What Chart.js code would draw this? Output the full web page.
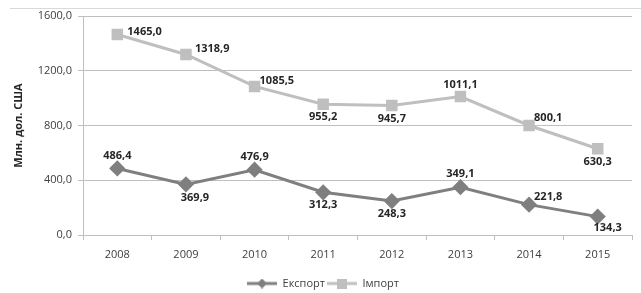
<!DOCTYPE html>
<html>
<head>
<meta charset="utf-8">
<script src="https://cdn.jsdelivr.net/npm/chart.js@4"></script>
<style>
  html, body { margin: 0; padding: 0; background: #fff; }
  #wrap { width: 641px; height: 293px; }
</style>
</head>
<body>
<div id="wrap"><canvas id="chart" width="641" height="293"></canvas></div>
<script>
// Data
const years = ['2008', '2009', '2010', '2011', '2012', '2013', '2014', '2015'];
const exportValues = [486.4, 369.9, 476.9, 312.3, 248.3, 349.1, 221.8, 134.3];
const importValues = [1465.0, 1318.9, 1085.5, 955.2, 945.7, 1011.1, 800.1, 630.3];
const yTicks = [0, 400, 800, 1200, 1600];

// where each value label sits relative to its point: [dx, dy, align]
const exportLabelPos = [[0, -13, 'center'], [9, 13, 'center'], [0, -13, 'center'], [0, 13, 'center'],
                        [0, 13, 'center'], [0, -13, 'center'], [5, -8, 'left'], [10, 11, 'center']];
const importLabelPos = [[10, -3, 'left'], [9, -6, 'left'], [5, -6, 'left'], [0, 13, 'center'],
                        [0, 13, 'center'], [0, -12, 'center'], [5, -8, 'left'], [0, 13, 'center']];

const EXPORT_COLOR = '#7f7f7f';
const IMPORT_COLOR = '#bfbfbf';
const FONT = "'Open Sans', 'DejaVu Sans', sans-serif";

function fmt(v) {
    return v.toFixed(1).replace('.', ',');
}

// little line+marker picture for the legend
function legendIcon(color, style) {
    const c = document.createElement('canvas');
    c.width = 30; c.height = 10;
    const g = c.getContext('2d');
    g.strokeStyle = color;
    g.lineWidth = 3;
    g.beginPath(); g.moveTo(0, 5); g.lineTo(30, 5); g.stroke();
    g.fillStyle = color;
    if (style === 'rect') {
        g.fillRect(10, 0, 10, 10);
    } else {
        g.beginPath();
        g.moveTo(15, 0); g.lineTo(20, 5); g.lineTo(15, 10); g.lineTo(10, 5);
        g.closePath(); g.fill();
    }
    return c;
}

// value labels next to points
const valueLabels = {
    id: 'valueLabels',
    afterDatasetsDraw(chart) {
        const ctx = chart.ctx;
        ctx.save();
        ctx.font = 'bold 11px ' + FONT;
        ctx.fillStyle = '#262626';
        ctx.textBaseline = 'middle';
        chart.data.datasets.forEach((ds, i) => {
            const pos = i === 0 ? exportLabelPos : importLabelPos;
            chart.getDatasetMeta(i).data.forEach((pt, j) => {
                const p = pos[j];
                ctx.textAlign = p[2];
                ctx.fillText(fmt(ds.data[j]), pt.x + p[0], pt.y + p[1]);
            });
        });
        ctx.restore();
    }
};

// thin frame line at the top
const frame = {
    id: 'frame',
    beforeDraw(chart) {
        const ctx = chart.ctx;
        ctx.save();
        ctx.strokeStyle = '#d9d9d9';
        ctx.lineWidth = 1;
        ctx.beginPath();
        ctx.moveTo(10, 8.5);
        ctx.lineTo(641, 8.5);
        ctx.stroke();
        ctx.restore();
    }
};

new Chart(document.getElementById('chart'), {
    type: 'line',
    data: {
        labels: years,
        datasets: [
            {
                label: 'Експорт',
                data: exportValues,
                borderColor: EXPORT_COLOR,
                backgroundColor: EXPORT_COLOR,
                borderWidth: 3,
                pointStyle: 'rectRot',
                pointRadius: 6,
                pointHoverRadius: 6,
                tension: 0
            },
            {
                label: 'Імпорт',
                data: importValues,
                borderColor: IMPORT_COLOR,
                backgroundColor: IMPORT_COLOR,
                borderWidth: 3,
                pointStyle: 'rect',
                pointRadius: 6,
                pointHoverRadius: 6,
                tension: 0
            }
        ]
    },
    options: {
        responsive: false,
        animation: false,
        layout: { padding: { top: 16, right: 7, left: 12, bottom: -6 } },
        scales: {
            x: {
                offset: true,
                grid: {
                    offset: true,
                    drawOnChartArea: false,
                    color: '#bfbfbf',
                    tickLength: 5
                },
                border: { color: '#bfbfbf' },
                ticks: { color: '#404040', font: { family: FONT, size: 11 }, padding: 8 },
                afterFit(scale) { scale.height = 41; }
            },
            y: {
                min: 0,
                max: 1600,
                afterBuildTicks(scale) {
                    scale.ticks = yTicks.map(v => ({ value: v }));
                },
                afterFit(scale) { scale.width = 71; },
                grid: { color: '#bfbfbf', tickLength: 5 },
                border: { color: '#bfbfbf' },
                ticks: {
                    color: '#404040',
                    font: { family: FONT, size: 11 },
                    padding: 6,
                    callback: v => fmt(v)
                },
                title: {
                    display: true,
                    text: 'Млн. дол. США',
                    color: '#262626',
                    font: { family: FONT, size: 11, weight: 'bold' },
                    padding: 0
                }
            }
        },
        plugins: {
            legend: {
                position: 'bottom',
                labels: {
                    usePointStyle: true,
                    pointStyleWidth: 30,
                    color: '#404040',
                    font: { family: FONT, size: 11 },
                    boxHeight: 10,
                    padding: 2,
                    generateLabels(chart) {
                        return chart.data.datasets.map((ds, i) => ({
                            text: ds.label,
                            pointStyle: legendIcon(ds.borderColor, ds.pointStyle),
                            fillStyle: ds.borderColor,
                            strokeStyle: ds.borderColor,
                            lineWidth: 0,
                            fontColor: '#404040',
                            datasetIndex: i
                        }));
                    }
                }
            },
            tooltip: { enabled: false }
        }
    },
    plugins: [valueLabels, frame]
});
</script>
</body>
</html>
